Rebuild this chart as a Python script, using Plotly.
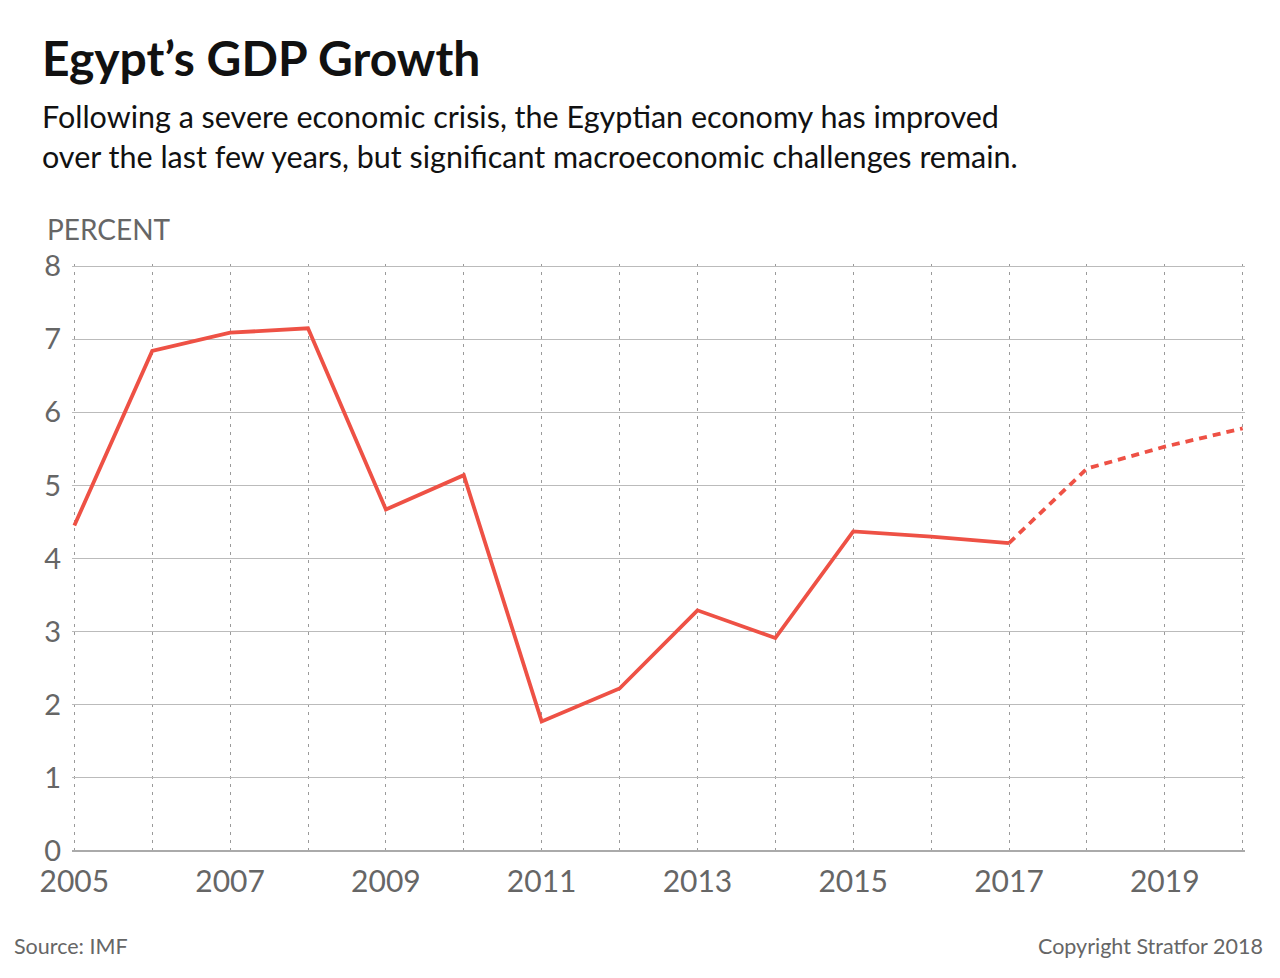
import plotly.graph_objects as go

years_actual = [2005, 2006, 2007, 2008, 2009, 2010, 2011, 2012, 2013, 2014, 2015, 2016, 2017]
growth_actual = [4.45, 6.84, 7.09, 7.15, 4.67, 5.14, 1.77, 2.22, 3.29, 2.91, 4.37, 4.30, 4.21]
years_forecast = [2017, 2018, 2019, 2020]
growth_forecast = [4.21, 5.23, 5.53, 5.78]
x_ticks = [2005, 2007, 2009, 2011, 2013, 2015, 2017, 2019]
y_ticks = [0, 1, 2, 3, 4, 5, 6, 7, 8]

RED = "#EE5145"
GRAY = "#666666"
FONT = "Lato, 'Open Sans', sans-serif"

fig = go.Figure()
fig.add_trace(go.Scatter(x=years_actual, y=growth_actual, mode="lines",
                         line=dict(color=RED, width=3.8), hoverinfo="skip", cliponaxis=False))
fig.add_trace(go.Scatter(x=years_forecast, y=growth_forecast, mode="lines",
                         line=dict(color=RED, width=3.8, dash="8px,6px"), hoverinfo="skip", cliponaxis=False))

fig.update_layout(
    width=1280, height=978,
    margin=dict(l=72, r=35, t=264, b=127),
    paper_bgcolor="white", plot_bgcolor="white",
    showlegend=False,
    font=dict(family=FONT, color=GRAY),
    xaxis=dict(
        range=[2004.97, 2020.03], tickvals=x_ticks, ticktext=[str(v) for v in x_ticks],
        showgrid=True, gridcolor="#9a9a9a", gridwidth=1, griddash="3px,5px",
        minor=dict(dtick=1, tick0=2005, showgrid=True, gridcolor="#9a9a9a", gridwidth=1, griddash="3px,5px"),
        showline=False, zeroline=False, ticks="", ticklabelstandoff=10,
        tickfont=dict(size=30, color=GRAY, family=FONT),
        fixedrange=True,
    ),
    yaxis=dict(
        range=[-0.004, 8.03], tickvals=y_ticks, showgrid=True, gridcolor="#bbbbbb", gridwidth=1,
        zeroline=True, zerolinecolor="#aaaaaa", zerolinewidth=2,
        showline=False, ticks="", ticklabelstandoff=10,
        tickfont=dict(size=29, color=GRAY, family=FONT), fixedrange=True,
    ),
)

def px_x(x):
    return (x - 72) / (1280 - 72 - 35)

def px_y(y):
    return (978 - 127 - y) / (978 - 127 - 264)

fig.add_annotation(text="<b>Egypt’s GDP Growth</b>", xref="paper", yref="paper",
                   x=px_x(40), y=px_y(58), xanchor="left", yanchor="middle",
                   showarrow=False, font=dict(size=48, color="#111111", family=FONT))
fig.add_annotation(text="Following a severe economic crisis, the Egyptian economy has improved",
                   xref="paper", yref="paper", x=px_x(40), y=px_y(116),
                   xanchor="left", yanchor="middle", showarrow=False,
                   font=dict(size=30.5, color="#111111", family=FONT))
fig.add_annotation(text="over the last few years, but significant macroeconomic challenges remain.",
                   xref="paper", yref="paper", x=px_x(40), y=px_y(156),
                   xanchor="left", yanchor="middle", showarrow=False,
                   font=dict(size=30.5, color="#111111", family=FONT))
fig.add_annotation(text="PERCENT", xref="paper", yref="paper", x=px_x(45), y=px_y(229),
                   xanchor="left", yanchor="middle", showarrow=False,
                   font=dict(size=28, color=GRAY, family=FONT))
fig.add_annotation(text="Source: IMF", xref="paper", yref="paper", x=px_x(12), y=px_y(946),
                   xanchor="left", yanchor="middle", showarrow=False,
                   font=dict(size=21.5, color=GRAY, family=FONT))
fig.add_annotation(text="Copyright Stratfor 2018", xref="paper", yref="paper", x=px_x(1265),
                   y=px_y(946), xanchor="right", yanchor="middle", showarrow=False,
                   font=dict(size=21.5, color=GRAY, family=FONT))

fig.write_html("out.html")
